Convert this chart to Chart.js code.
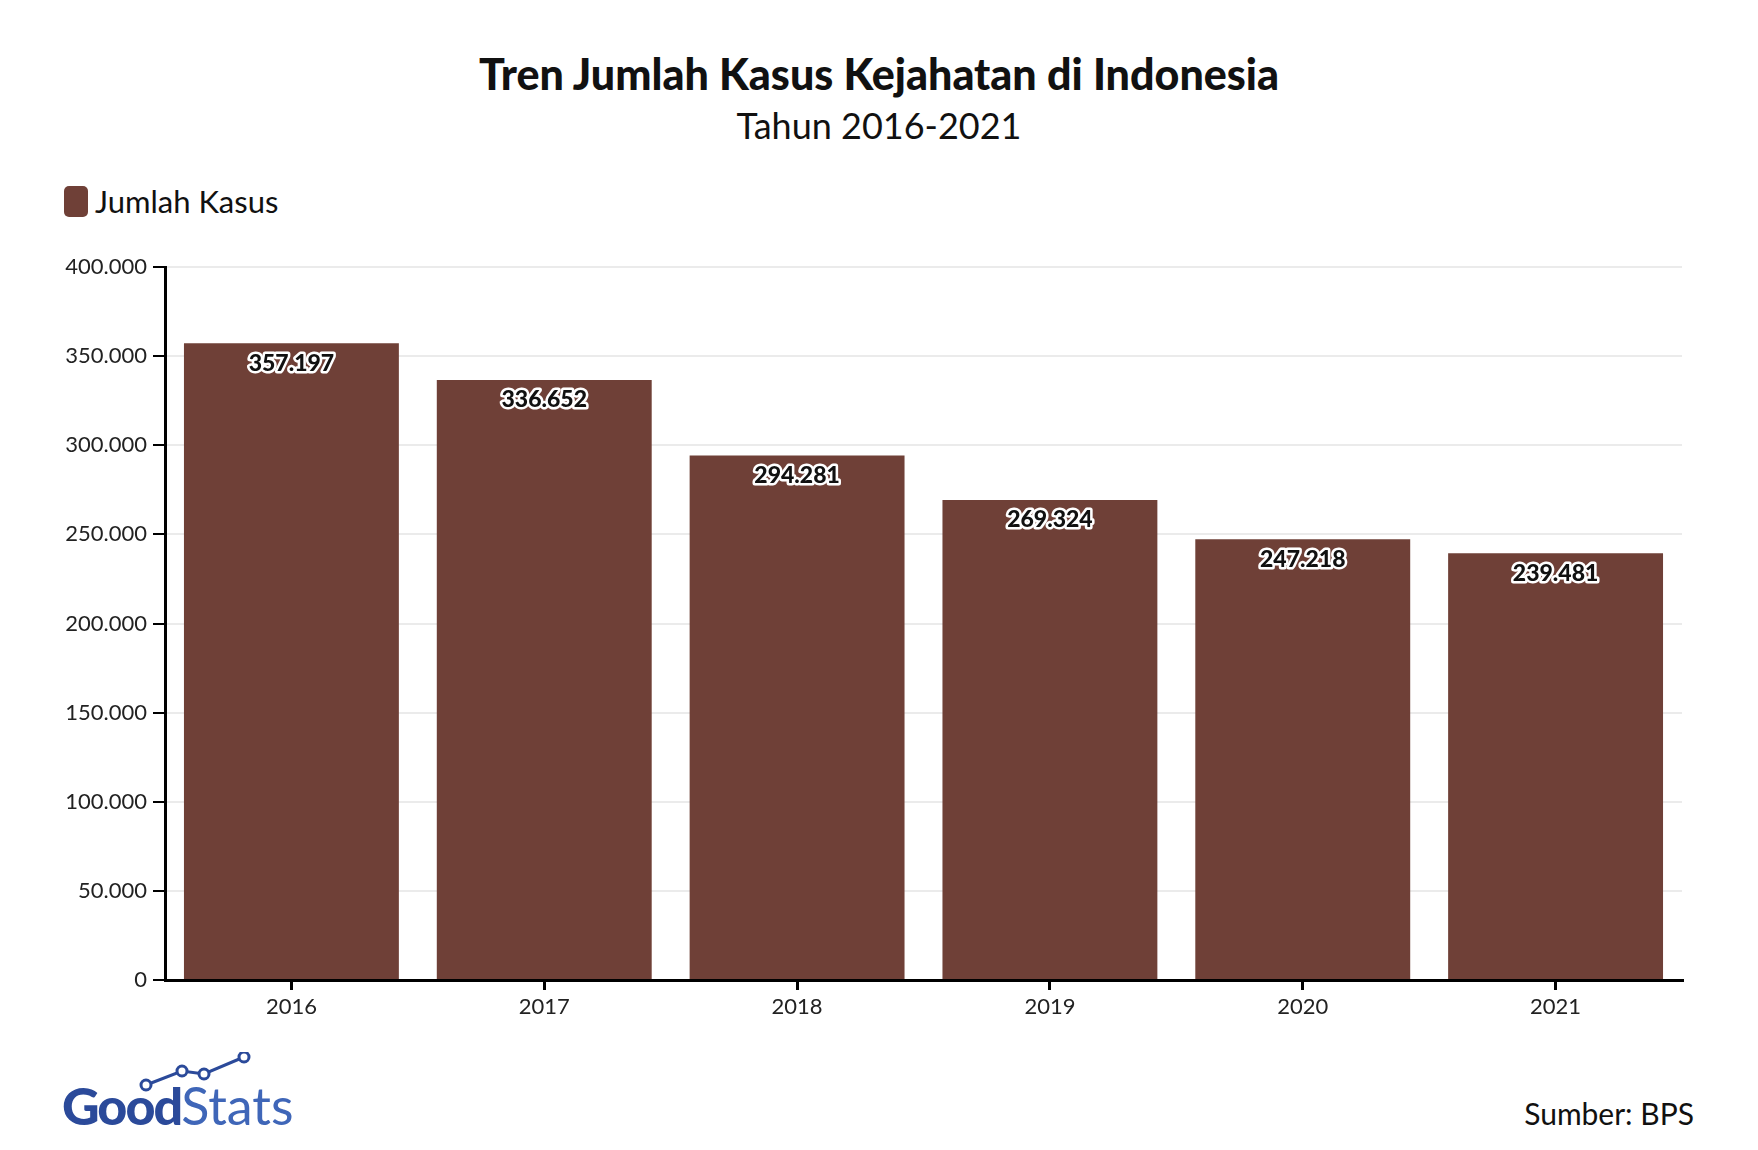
<!DOCTYPE html>
<html><head><meta charset="utf-8">
<script src="https://cdn.jsdelivr.net/npm/chart.js@4"></script>
<style>
body{margin:0;width:1758px;height:1150px;background:#fff;font-family:Lato,"Noto Sans",sans-serif;position:relative;overflow:hidden}
.t{position:absolute;left:0;width:1758px;text-align:center;color:#111}
#wrap{position:absolute;left:0;top:240px;width:1758px;height:800px}
</style></head><body>
<div class="t" style="top:48px;font-size:43px;font-weight:900">Tren Jumlah Kasus Kejahatan di Indonesia</div>
<div class="t" style="top:103px;font-size:36px">Tahun 2016-2021</div>
<div style="position:absolute;left:64px;top:182px;font-size:31px;color:#111;display:flex;align-items:center">
<span style="display:inline-block;width:24px;height:31px;border-radius:5px;background:#6f4037;margin-right:7px"></span>Jumlah Kasus</div>
<div id="wrap"><canvas id="c"></canvas></div>
<svg style="position:absolute;left:62px;top:1052px" width="260" height="80">
<polyline points="84,33 120,19 142,22 182,5" fill="none" stroke="#2b4a9a" stroke-width="3"/>
<circle cx="84" cy="33" r="5" fill="#fff" stroke="#2b4a9a" stroke-width="3"/>
<circle cx="120" cy="19" r="5" fill="#fff" stroke="#2b4a9a" stroke-width="3"/>
<circle cx="142" cy="22" r="5" fill="#fff" stroke="#2b4a9a" stroke-width="3"/>
<circle cx="182" cy="5" r="5" fill="#fff" stroke="#2b4a9a" stroke-width="3"/>
<text x="0" y="73" font-family="Lato" font-size="52" font-weight="900" fill="#2b4a9a" letter-spacing="-2">Good<tspan font-weight="400" fill="#3f66b8" letter-spacing="0">Stats</tspan></text>
</svg>
<div style="position:absolute;right:64px;top:1095px;font-size:30px;color:#111">Sumber: BPS</div>
<script>
const categories=["2016","2017","2018","2019","2020","2021"];
const jumlahKasus=[357197,336652,294281,269324,247218,239481];
const fmt=v=>v.toLocaleString('de-DE');
const labelPlugin={id:'lbl',afterDatasetsDraw(ch){const c=ch.ctx;const m=ch.getDatasetMeta(0);
c.save();c.font='900 23px Lato';c.textAlign='center';c.textBaseline='middle';c.lineJoin='round';
m.data.forEach((b,i)=>{const t=fmt(jumlahKasus[i]);const y=b.y+20;c.lineWidth=5;c.strokeStyle='#fff';c.strokeText(t,b.x,y);c.fillStyle='#111';c.fillText(t,b.x,y);});c.restore();}};
new Chart(document.getElementById('c'),{type:'bar',
data:{labels:categories,datasets:[{label:'Jumlah Kasus',data:jumlahKasus,backgroundColor:'#6f4037',categoryPercentage:1,barPercentage:0.85}]},
options:{responsive:true,maintainAspectRatio:false,animation:false,
layout:{padding:{top:27,right:76,left:0,bottom:0}},
plugins:{legend:{display:false},tooltip:{enabled:false}},
scales:{
x:{grid:{offset:false,drawOnChartArea:false,tickColor:'#000',tickLength:10,lineWidth:3},border:{color:'#000',width:3},
ticks:{color:'#222',font:{family:'Lato',size:22},padding:4},afterFit(s){s.height=60;}},
y:{min:0,max:400000,grid:{color:'#ebebeb',lineWidth:2,tickColor:'#000',tickLength:12},border:{color:'#000',width:3},
ticks:{stepSize:50000,color:'#222',font:{family:'Lato',size:22},padding:6,callback:v=>fmt(v)},afterFit(s){s.width=165;}}
}},plugins:[labelPlugin]});
</script></body></html>
